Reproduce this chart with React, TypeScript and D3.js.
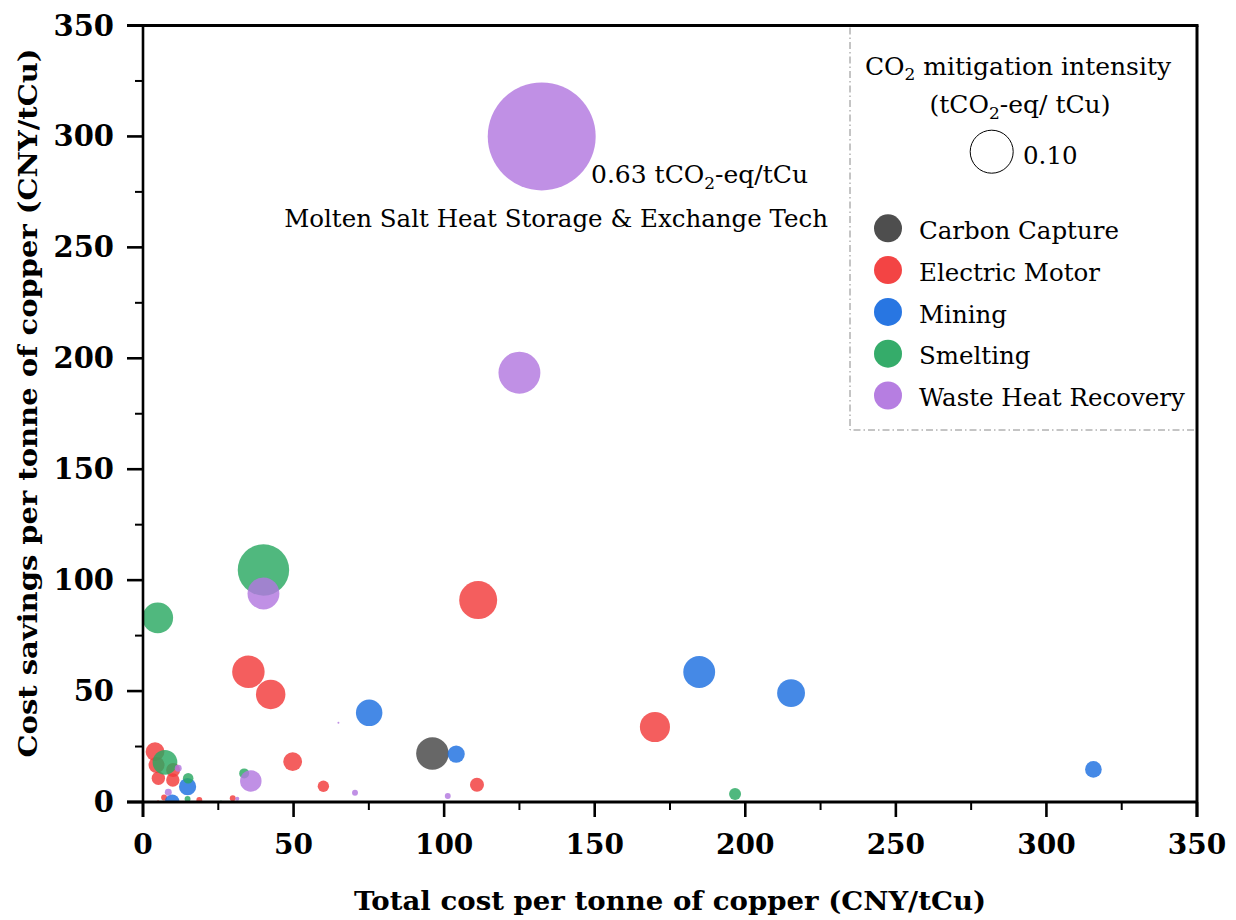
import React from 'react';
import * as d3 from 'd3';

const categories = ['Carbon Capture', 'Electric Motor', 'Mining', 'Smelting', 'Waste Heat Recovery'];
const colors = ['#454545', '#f23a3a', '#1c6fe0', '#2aa862', '#b277df'];

// Carbon Capture
const ccX = [96.1];
const ccY = [21.9];
const ccI = [0.057];

// Electric Motor
const emX = [111.3, 35, 42.4, 170, 49.7, 59.9, 110.9, 29.8, 4, 5.1, 9.9, 10, 4.5, 18.7, 7, 5];
const emY = [91, 58.7, 48.5, 33.8, 18.2, 7.1, 7.8, 1.7, 22.7, 10.7, 9.9, 14.4, 16.7, 0.9, 2, 0.3];
const emI = [0.078, 0.057, 0.047, 0.049, 0.019, 0.007, 0.0106, 0.0019, 0.019, 0.0097, 0.0097, 0.0106, 0.014, 0.0019, 0.0019, 0.0002];

// Mining
const mnX = [184.7, 215.2, 75.1, 104, 315.6, 14.8, 9.7];
const mnY = [58.6, 49.1, 40.2, 21.6, 14.7, 6.9, 0.1];
const mnI = [0.055, 0.042, 0.038, 0.016, 0.015, 0.016, 0.0115];

// Smelting
const smX = [40, 4.9, 7.3, 15, 33.6, 196.6, 14.8, 25.9];
const smY = [104.6, 83, 17.9, 10.7, 12.9, 3.6, 1.4, 0.2];
const smI = [0.143, 0.051, 0.033, 0.006, 0.0054, 0.0078, 0.0019, 0.0002];

// Waste Heat Recovery
const whX = [132.4, 125, 40, 35.8, 11.7, 8.4, 31.3, 70.4, 101.2, 64.9];
const whY = [300, 193.5, 94, 9.5, 15.2, 4.4, 1.5, 4.2, 2.7, 35.7];
const whI = [0.63, 0.095, 0.055, 0.025, 0.0026, 0.0026, 0.0009, 0.0019, 0.0019, 0.0002];

const seriesX = [ccX, emX, mnX, smX, whX];
const seriesY = [ccY, emY, mnY, smY, whY];
const seriesI = [ccI, emI, mnI, smI, whI];

const majorTicks = [0, 50, 100, 150, 200, 250, 300, 350];
const minorTicks = [25, 75, 125, 175, 225, 275, 325];
const sizeLegendValue = 0.1;

const L = 143, R = 1197, T = 25.5, B = 802;

export default function App() {
  const x = d3.scaleLinear().domain([0, 350]).range([L, R]);
  const y = d3.scaleLinear().domain([0, 350]).range([B, T]);
  const r = d3.scaleSqrt().domain([0, 0.1]).range([0, 21.5]);

  const points: { cx: number; cy: number; rr: number; c: string }[] = [];
  seriesX.forEach((xs, si) => {
    xs.forEach((xv, i) => {
      points.push({ cx: x(xv), cy: y(seriesY[si][i]), rr: r(seriesI[si][i]), c: colors[si] });
    });
  });

  const serif = 'DejaVu Serif';
  const axisW = 2.6;
  const fs = 24.5;

  return (
    <svg width={1236} height={920} style={{ position: 'absolute', left: 0, top: 0, background: '#fff' }}
      fontFamily={serif}>
      <defs>
        <clipPath id="plot">
          <rect x={L} y={T} width={R - L} height={B - T} />
        </clipPath>
      </defs>
      <rect x={0} y={0} width={1236} height={920} fill="#fff" />

      {/* bubbles */}
      <g clipPath="url(#plot)">
        {points.map((p, i) => (
          <circle key={i} cx={p.cx} cy={p.cy} r={Math.max(p.rr, 0.8)} fill={p.c} fillOpacity={0.82} />
        ))}
      </g>

      {/* legend border (dash-dot) */}
      <path d={`M850,${T + 2} V430 H${R}`} fill="none" stroke="#8a8a8a" strokeWidth={1}
        strokeDasharray="7,3,1.5,3" />

      {/* frame */}
      <line x1={L - 16} x2={R + 1.5} y1={T} y2={T} stroke="#000" strokeWidth={3} />
      <line x1={R} x2={R} y1={T} y2={B + 15} stroke="#000" strokeWidth={3} />
      <line x1={L} x2={L} y1={T} y2={B + 15} stroke="#000" strokeWidth={axisW} />
      <line x1={L - 16} x2={R} y1={B} y2={B} stroke="#000" strokeWidth={axisW + 0.4} />

      {/* x ticks */}
      {majorTicks.map((t) => (
        <g key={'xt' + t}>
          <line x1={x(t)} x2={x(t)} y1={B} y2={B + 15} stroke="#000" strokeWidth={axisW} />
          <text x={x(t)} y={854} textAnchor="middle" fontWeight="bold" fontSize={28}>{t}</text>
        </g>
      ))}
      {minorTicks.map((t) => (
        <line key={'xm' + t} x1={x(t)} x2={x(t)} y1={B} y2={B + 8} stroke="#000" strokeWidth={2} />
      ))}

      {/* y ticks */}
      {majorTicks.map((t) => (
        <g key={'yt' + t}>
          <line x1={L - 16} x2={L} y1={y(t)} y2={y(t)} stroke="#000" strokeWidth={axisW} />
          <text x={114} y={y(t) + 10} textAnchor="end" fontWeight="bold" fontSize={29}>{t}</text>
        </g>
      ))}
      {minorTicks.map((t) => (
        <line key={'ym' + t} x1={L - 8} x2={L} y1={y(t)} y2={y(t)} stroke="#000" strokeWidth={2} />
      ))}

      {/* axis titles */}
      <text x={670} y={910} textAnchor="middle" fontWeight="bold" fontSize={26}
        textLength={632} lengthAdjust="spacingAndGlyphs">Total cost per tonne of copper (CNY/tCu)</text>
      <text transform="translate(37,403) rotate(-90)" textAnchor="middle" fontWeight="bold" fontSize={26}
        textLength={709} lengthAdjust="spacingAndGlyphs">Cost savings per tonne of copper (CNY/tCu)</text>

      {/* annotation */}
      <text x={591} y={183} fontSize={fs + 0.5}>
        <tspan>0.63 tCO</tspan><tspan fontSize={17} dy={6}>2</tspan><tspan dy={-6}>-eq/tCu</tspan>
      </text>
      <text x={828} y={227} fontSize={fs} textAnchor="end">Molten Salt Heat Storage &amp; Exchange Tech</text>

      {/* size legend */}
      <text x={1018} y={75} fontSize={fs + 0.5} textAnchor="middle">
        <tspan>CO</tspan><tspan fontSize={17} dy={5}>2</tspan><tspan dy={-5}> mitigation intensity</tspan>
      </text>
      <text x={1020} y={113} fontSize={fs + 0.5} textAnchor="middle">
        <tspan>(tCO</tspan><tspan fontSize={17} dy={6}>2</tspan><tspan dy={-6}>-eq/ tCu)</tspan>
      </text>
      <circle cx={991.7} cy={151.7} r={r(sizeLegendValue)} fill="none" stroke="#000" strokeWidth={1} />
      <text x={1023} y={164} fontSize={fs}>{sizeLegendValue.toFixed(2)}</text>

      {/* category legend */}
      {categories.map((c, i) => (
        <g key={c}>
          <circle cx={888} cy={228.3 + i * 41.8} r={14} fill={colors[i]} fillOpacity={0.95} />
          <text x={919} y={239 + i * 41.8} fontSize={fs}>{c}</text>
        </g>
      ))}
    </svg>
  );
}
